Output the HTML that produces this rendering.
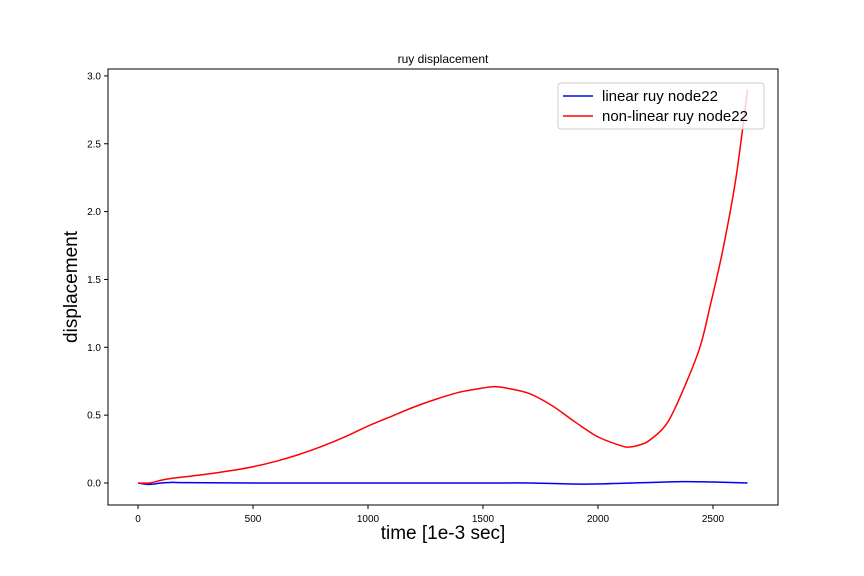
<!DOCTYPE html>
<html><head><meta charset="utf-8"><style>
body{margin:0;background:#fff;}
svg{display:block;font-family:"Liberation Sans","DejaVu Sans",sans-serif;}
</style></head><body>
<svg id="chart" width="864" height="576">
<rect x="0" y="0" width="864" height="576" fill="#fff"/>
<text x="443" y="63" font-size="12" text-anchor="middle">ruy displacement</text>
<g id="ticks"></g>
<g id="plot"></g>
<rect x="108" y="69" width="670" height="436" fill="none" stroke="#000" stroke-width="1"/>
<text x="443" y="539" font-size="19" text-anchor="middle">time [1e-3 sec]</text>
<text transform="translate(77,287) rotate(-90)" font-size="19" text-anchor="middle">displacement</text>
<g>
<rect x="558" y="83" width="206" height="46" rx="3" fill="#fff" fill-opacity="0.8" stroke="#ccc"/>
<line x1="563" y1="96" x2="593" y2="96" stroke="blue" stroke-width="1.5"/>
<text x="602" y="101" font-size="15">linear ruy node22</text>
<line x1="563" y1="116" x2="593" y2="116" stroke="red" stroke-width="1.5"/>
<text x="602" y="121" font-size="15">non-linear ruy node22</text>
</g>
</svg>
<script>
const xTicks=[0,500,1000,1500,2000,2500];
const yTicks=[0.0,0.5,1.0,1.5,2.0,2.5,3.0];
const redT=[0,50,100,150,200,300,400,500,600,700,800,900,1000,1100,1200,1300,1400,1500,1550,1600,1700,1800,1900,2000,2100,2135,2180,2226,2300,2370,2443,2487,2543,2600,2650];
const redV=[0,0,0.02,0.035,0.045,0.065,0.09,0.12,0.16,0.21,0.27,0.34,0.42,0.49,0.56,0.62,0.67,0.70,0.71,0.70,0.66,0.57,0.45,0.34,0.275,0.265,0.28,0.317,0.44,0.685,1.0,1.3,1.72,2.25,2.9];
const blueT=[0,50,100,150,200,500,1000,1500,1700,1950,2200,2370,2500,2650];
const blueV=[0,-0.01,0,0.005,0.003,0,0,0,0,-0.008,0.003,0.01,0.007,0];
const X=v=>138+v*0.23;
const Y=v=>483-v*135.7;
const ns="http://www.w3.org/2000/svg";
const tg=document.getElementById('ticks');
function mk(tag,attrs,parent){const e=document.createElementNS(ns,tag);for(const k in attrs)e.setAttribute(k,attrs[k]);parent.appendChild(e);return e;}
xTicks.forEach(t=>{
 const l=mk('line',{x1:X(t),x2:X(t),y1:505,y2:509,stroke:'#000'},tg);
 
 
 const tx=mk('text',{x:X(t),y:522,'font-size':10,'text-anchor':'middle'},tg);tx.textContent=t;
 
 
});
yTicks.forEach(t=>{
 const l=mk('line',{x1:104,x2:108,y1:Y(t),y2:Y(t),stroke:'#000'},tg);
 
 
 const tx=mk('text',{x:101,y:Y(t)+3.5,'font-size':10,'text-anchor':'end'},tg);tx.textContent=t.toFixed(1);
 
 
});
function smooth(ts,vs){
 const p=ts.map((t,i)=>[X(t),Y(vs[i])]);
 let d='M'+p[0][0]+','+p[0][1];
 for(let i=0;i<p.length-1;i++){
  const p0=p[i-1]||p[i],p1=p[i],p2=p[i+1],p3=p[i+2]||p2;
  const c1=[p1[0]+(p2[0]-p0[0])/6,p1[1]+(p2[1]-p0[1])/6];
  const c2=[p2[0]-(p3[0]-p1[0])/6,p2[1]-(p3[1]-p1[1])/6];
  d+=' C'+c1+' '+c2+' '+p2;
 }
 return d;
}
const pg=document.getElementById('plot');
const b=mk('path',{d:smooth(blueT,blueV),fill:'none',stroke:'blue','stroke-width':1.5},pg);


const r=mk('path',{d:smooth(redT,redV),fill:'none',stroke:'red','stroke-width':1.5},pg);


</script>
</body></html>
